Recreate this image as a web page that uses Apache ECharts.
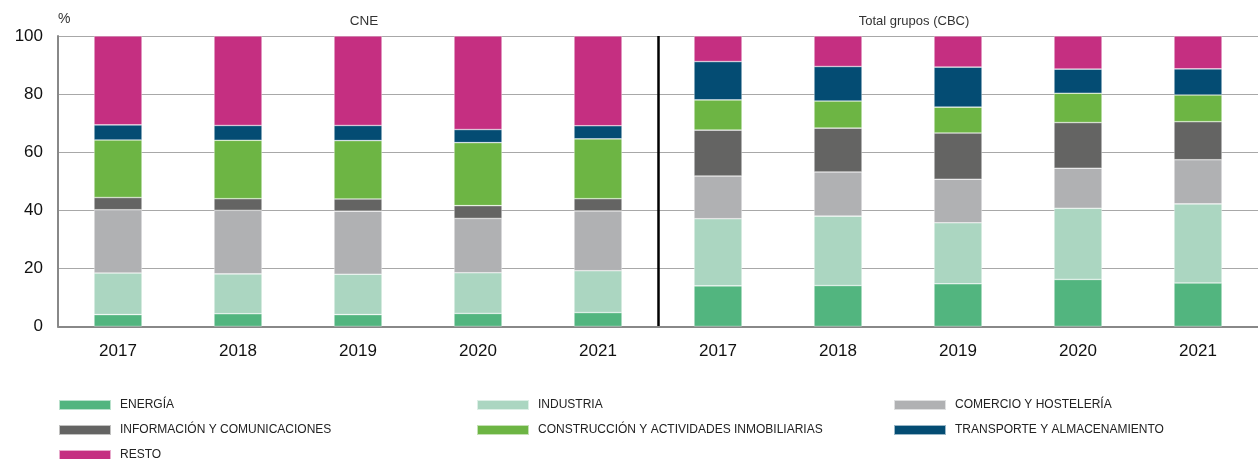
<!DOCTYPE html>
<html>
<head>
<meta charset="utf-8">
<script src="https://cdn.jsdelivr.net/npm/echarts@6/dist/echarts.min.js"></script>
<style>
  html, body { margin: 0; padding: 0; background: #fff; }
  #chart { width: 1258px; height: 459px; }
</style>
</head>
<body>
<div id="chart"></div>
<script>
// CNE 2017-2021, luego Total grupos (CBC) 2017-2021
const years = ['2017', '2018', '2019', '2020', '2021', '2017 ', '2018 ', '2019 ', '2020 ', '2021 ']
const yTicks = [0, 20, 40, 60, 80, 100]

const energia     = [4.1, 4.4, 4.1, 4.5, 4.8, 14.0, 14.1, 14.7, 16.2, 15.0]
const industria   = [14.3, 13.7, 13.9, 14.0, 14.4, 23.1, 23.9, 21.0, 24.5, 27.2]
const comercio    = [21.8, 21.9, 21.7, 18.7, 20.6, 14.7, 15.2, 15.0, 13.8, 15.2]
const informacion = [4.2, 4.0, 4.2, 4.4, 4.2, 15.8, 15.1, 15.9, 15.7, 13.1]
const construccion = [19.8, 20.1, 20.1, 21.7, 20.6, 10.4, 9.3, 8.9, 10.1, 9.2]
const transporte  = [5.2, 5.1, 5.2, 4.5, 4.5, 13.2, 11.9, 13.8, 8.3, 9.0]
const resto       = [30.6, 30.8, 30.8, 32.2, 30.9, 8.8, 10.5, 10.7, 11.4, 11.3]

const names = ['ENERGÍA', 'INDUSTRIA', 'COMERCIO Y HOSTELERÍA', 'INFORMACIÓN Y COMUNICACIONES',
  'CONSTRUCCIÓN Y ACTIVIDADES INMOBILIARIAS', 'TRANSPORTE Y ALMACENAMIENTO', 'RESTO']
const values = [energia, industria, comercio, informacion, construccion, transporte, resto]
const colors = ['#52b57f', '#abd6c1', '#b0b1b3', '#646463', '#6db544', '#044c73', '#c52f81']

const font = '"Liberation Sans", Arial, sans-serif'

// posición de cada entrada de la leyenda (3 columnas)
const legendCols = [58, 476, 893]
const legendRows = [399, 424, 449]

// línea vertical separando CNE y CBC: solo el split 5 en negro
const splitColors = years.map((_, i) => (i === 5 ? '#000' : 'rgba(0,0,0,0)')).concat(['rgba(0,0,0,0)'])

const chart = echarts.init(document.getElementById('chart'), null, { renderer: 'canvas' })

chart.setOption({
  animation: false,
  backgroundColor: '#fff',
  grid: { left: 58, right: 0, top: 36, bottom: 132.5 },
  legend: names.map((n, i) => ({
    data: [n], left: legendCols[i % 3], top: legendRows[Math.floor(i / 3)],
    padding: 0, itemWidth: 52, itemHeight: 10, icon: 'rect', selectedMode: false,
    textStyle: { fontFamily: font, fontSize: 12, lineHeight: 12, color: '#222', padding: [0, 0, 0, 4] },
  })),
  graphic: [
    { type: 'text', left: 58, top: 12, style: { text: '%', fontFamily: font, fontSize: 14, fill: '#333' } },
    { type: 'text', x: 364, y: 21, style: { text: 'CNE', fontFamily: font, fontSize: 13.5, fill: '#333', textAlign: 'center', textVerticalAlign: 'middle' } },
    { type: 'text', x: 914, y: 21, style: { text: 'Total grupos (CBC)', fontFamily: font, fontSize: 13, fill: '#333', textAlign: 'center', textVerticalAlign: 'middle' } },
  ],
  xAxis: {
    type: 'category',
    data: years,
    axisLine: { lineStyle: { color: '#888', width: 2 } },
    axisTick: { inside: true, length: 5, lineStyle: { color: '#888' } },
    axisLabel: { fontFamily: font, fontSize: 17, color: '#111', margin: 16, formatter: v => v.trim() },
    splitLine: { show: true, interval: 0, lineStyle: { color: splitColors, width: 2.5 } },
  },
  yAxis: {
    type: 'value', min: 0, max: 100, interval: 20,
    axisLine: { show: true, lineStyle: { color: '#888', width: 2 } },
    axisTick: { show: false },
    axisLabel: { fontFamily: font, fontSize: 17, color: '#111', margin: 15,
      formatter: v => yTicks.includes(v) ? String(v) : '' },
    splitLine: { lineStyle: { color: '#a8a8a8', width: 1.2 } },
  },
  series: names.map((n, i) => ({
    name: n, type: 'bar', stack: 'total', barWidth: '40%',
    data: values[i],
    itemStyle: { color: colors[i], borderColor: 'rgba(255,255,255,0.6)', borderWidth: 0.6 },
  })),
})
</script>
</body>
</html>
